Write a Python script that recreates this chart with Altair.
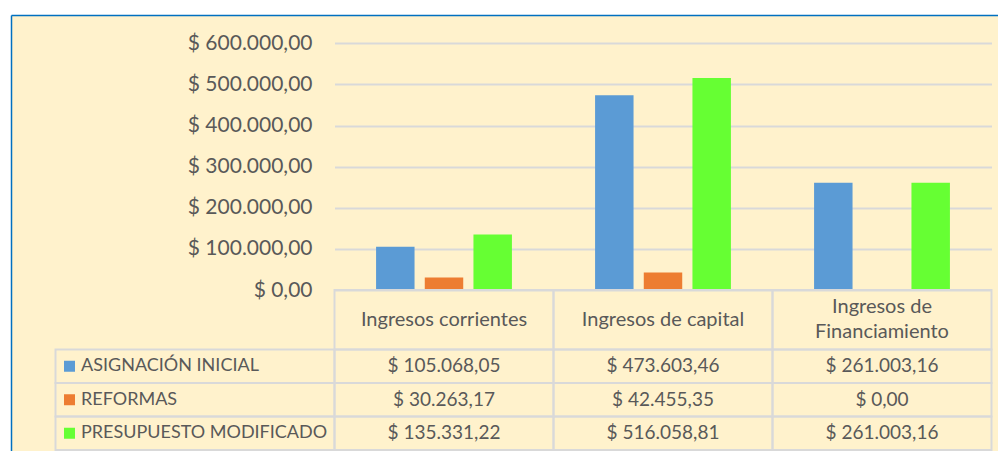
import altair as alt
import pandas as pd

# ---- data ----
categorias = ["Ingresos corrientes", "Ingresos de capital", "Ingresos de Financiamiento"]
encabezados = ["Ingresos corrientes", "Ingresos de capital", "Ingresos de\nFinanciamiento"]
series = ["ASIGNACIÓN INICIAL", "REFORMAS", "PRESUPUESTO MODIFICADO"]
asignacion = [105068.05, 473603.46, 261003.16]
reformas = [30263.17, 42455.35, 0.00]
modificado = [135331.22, 516058.81, 261003.16]
colores = ["#5B9BD5", "#ED7D31", "#66FF33"]
y_ticks = [0, 100000, 200000, 300000, 400000, 500000, 600000]


def fmt(v):
    s = f"{v:,.2f}"
    return "$ " + s.replace(",", "X").replace(".", ",").replace("X", ".")


rows = []
for serie, vals in zip(series, [asignacion, reformas, modificado]):
    for cat, v in zip(categorias, vals):
        rows.append({"serie": serie, "categoria": cat, "valor": v, "texto": fmt(v)})
df = pd.DataFrame(rows)
df_head = pd.DataFrame({"categoria": categorias, "texto": encabezados, "fila": "h"})
df_head["lineas"] = df_head["texto"].str.count("\n") + 1
df_leg = pd.DataFrame({"serie": series, "col": "leg"})
df_frame = pd.DataFrame({"f": ["f"]})

# ---- layout (pixels inside the plot frame) ----
W, H = 987, 436
LEG = [44.5, 323.5]
CAT = [323.5, 980.5]
YBAR = [275, 28.4]
HEAD = [275, 334.5]
ROWS = [334.5, 435]
FONT = "Lato"
TXT = "#595959"
LINE = "#D9D9D9"
BORDER = "#0070C0"

x_cat = alt.X("categoria:N", scale=alt.Scale(domain=categorias, range=CAT, paddingInner=0, paddingOuter=0), axis=None)
y_rows = alt.Y("serie:N", scale=alt.Scale(domain=series, range=ROWS, paddingInner=0, paddingOuter=0), axis=None)
color = alt.Color("serie:N", scale=alt.Scale(domain=series, range=colores), legend=None)

bars = alt.Chart(df).mark_bar().encode(
    x=x_cat,
    xOffset=alt.XOffset("serie:N", scale=alt.Scale(domain=series, paddingInner=0.21, paddingOuter=0.854)),
    y=alt.Y(
        "valor:Q",
        scale=alt.Scale(domain=[0, 600000], range=YBAR, nice=False, zero=True),
        axis=alt.Axis(
            values=y_ticks, orient="left", offset=-CAT[0], ticks=False, domain=False,
            grid=True, gridColor=LINE, gridWidth=2,
            labelExpr="'$ ' + replace(format(datum.value, ','), ',', '.') + ',00'",
            labelFont=FONT, labelFontSize=21, labelColor=TXT, labelPadding=22.5,
            labelFlush=False, labelOverlap=False, title=None,
        ),
    ),
    color=color,
)

y_head = alt.Y("fila:N", scale=alt.Scale(domain=["h"], range=HEAD, paddingInner=0, paddingOuter=0), axis=None)
head_cells = alt.Chart(df_head).mark_rect(filled=False, color=LINE, strokeWidth=2).encode(x=x_cat, y=y_head)
head_text1 = alt.Chart(df_head).transform_filter("datum.lineas == 1").mark_text(
    font=FONT, fontSize=20, color=TXT
).encode(x=x_cat, y=y_head, text="texto:N")
head_text2 = alt.Chart(df_head).transform_filter("datum.lineas == 2").mark_text(
    font=FONT, fontSize=20, color=TXT, lineBreak="\n", lineHeight=25, dy=-12.5
).encode(x=x_cat, y=y_head, text="texto:N")

val_cells = alt.Chart(df).mark_rect(filled=False, color=LINE, strokeWidth=2).encode(x=x_cat, y=y_rows)
val_text = alt.Chart(df).mark_text(font=FONT, fontSize=19, color=TXT).encode(x=x_cat, y=y_rows, text="texto:N")

x_leg = alt.X("col:N", scale=alt.Scale(domain=["leg"], range=LEG, paddingInner=0, paddingOuter=0), axis=None)
leg_cells = alt.Chart(df_leg).mark_rect(filled=False, color=LINE, strokeWidth=2).encode(x=x_leg, y=y_rows)
leg_sw = alt.Chart(df_leg).mark_square(size=121, xOffset=-125.5, opacity=1).encode(x=x_leg, y=y_rows, color=color)
leg_text = alt.Chart(df_leg).mark_text(font=FONT, fontSize=18, color=TXT, align="left", dx=-114).encode(
    x=x_leg, y=y_rows, text="serie:N"
)

# chart frame: left and top border lines drawn as axis domains
frame = alt.Chart(df_frame).mark_point(opacity=0).encode(
    x=alt.X("f:N", scale=alt.Scale(domain=["f"], range=[0, W]),
            axis=alt.Axis(orient="top", domainColor=BORDER, domainWidth=1.5, ticks=False, labels=False,
                          grid=False, title=None)),
    y=alt.Y("f:N", scale=alt.Scale(domain=["f"], range=[0, H]),
            axis=alt.Axis(orient="left", domainColor=BORDER, domainWidth=1.5, ticks=False, labels=False,
                          grid=False, title=None)),
)

chart = (
    alt.layer(bars, head_cells, head_text1, head_text2, val_cells, val_text, leg_cells, leg_sw, leg_text, frame)
    .resolve_scale(x="independent", y="independent")
    .properties(
        width=W, height=H,
        padding={"left": 3, "top": 7, "right": 0, "bottom": 0},
        autosize=alt.AutoSizeParams(type="none"),
        background="white",
    )
    .configure_view(fill="#FFF2CC", strokeOpacity=0)
)

chart.save("out.html", embed_options={"renderer": "svg", "actions": False})
